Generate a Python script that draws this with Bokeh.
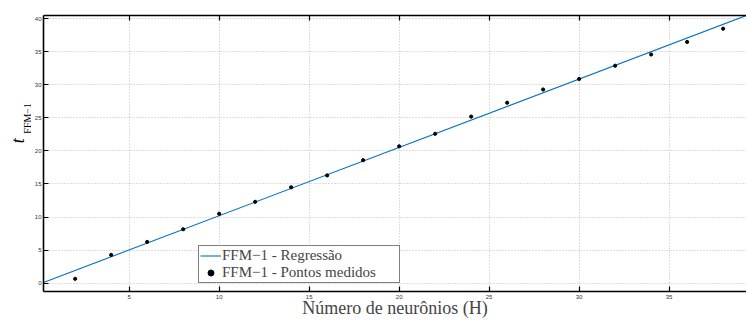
import math
from bokeh.plotting import figure
from bokeh.layouts import row
from bokeh.models import Range1d, LinearAxis, FixedTicker, Legend, LegendItem
from bokeh.core.properties import value
from bokeh.embed import file_html
from bokeh.resources import INLINE

# Data
H_points = [2, 4, 6, 8, 10, 12, 14, 16, 18, 20, 22, 24, 26, 28, 30, 32, 34, 36, 38]
t_points = [0.65, 4.27, 6.23, 8.15, 10.5, 12.3, 14.5, 16.3, 18.6, 20.7,
            22.6, 25.2, 27.3, 29.3, 30.9, 32.9, 34.6, 36.5, 38.5]
reg_H = [0.24, 39.3]
reg_t = [0.1, 40.5]
x_ticks = [5, 10, 15, 20, 25, 30, 35]
y_ticks = [0, 5, 10, 15, 20, 25, 30, 35, 40]
x_label = "Número de neurônios (H)"
y_label_main = "t"
y_label_sub = "FFM−1"

LW = 31  # width of the strip holding the y-axis label

p = figure(width=746 - LW, height=320, output_backend="svg", toolbar_location=None,
           x_range=Range1d(0.24, 39.3), y_range=Range1d(-1.27, 40.5),
           min_border_left=40 - LW, min_border_right=0, min_border_top=15, min_border_bottom=28,
           x_axis_location=None, y_axis_location=None)
p.outline_line_color = None
p.background_fill_color = "white"
p.border_fill_color = "white"

tick_font = "Liberation Sans"

def style_axis(ax):
    ax.axis_line_color = "black"
    ax.axis_line_width = 1.6
    ax.major_tick_line_color = "black"
    ax.major_tick_line_width = 1.2
    ax.major_tick_in = 5
    ax.major_tick_out = 0
    ax.minor_tick_line_color = "black"
    ax.minor_tick_line_width = 1.2
    ax.minor_tick_in = 5
    ax.minor_tick_out = 0
    ax.major_label_text_font = tick_font
    ax.major_label_text_font_size = "6px"
    ax.major_label_text_color = "#333333"
    ax.major_label_standoff = 3

xb = LinearAxis(ticker=FixedTicker(ticks=x_ticks), axis_label=x_label)
xt = LinearAxis(ticker=FixedTicker(ticks=[], minor_ticks=x_ticks))
yl = LinearAxis(ticker=FixedTicker(ticks=y_ticks))
for ax in (xb, xt, yl):
    style_axis(ax)
xb.axis_label_text_font = "Liberation Serif"
xb.axis_label_text_font_size = "18px"
xb.axis_label_text_font_style = "normal"
xb.axis_label_standoff = -4
yl.major_label_standoff = 2
p.add_layout(xb, "below")
p.add_layout(xt, "above")
p.add_layout(yl, "left")

# Grid
p.xgrid.ticker = FixedTicker(ticks=x_ticks)
p.ygrid.ticker = FixedTicker(ticks=y_ticks)
for g in (p.xgrid, p.ygrid):
    g.grid_line_color = "#bcbcbc"
    g.grid_line_dash = "1 2"
    g.grid_line_width = 1

r_line = p.line(reg_H, reg_t, line_color="#0072bd", line_width=1.1)
r_pts = p.scatter(H_points, t_points, size=3.2, color="black", marker="circle")

legend = Legend(items=[LegendItem(label="FFM−1 - Regressão", renderers=[r_line]),
                       LegendItem(label="FFM−1 - Pontos medidos", renderers=[r_pts])],
                location=(155, 8))
legend.border_line_color = "black"
legend.border_line_width = 1
legend.background_fill_color = "white"
legend.background_fill_alpha = 1
legend.label_text_font = "Liberation Serif"
legend.label_text_font_size = "15px"
legend.glyph_width = 21
legend.glyph_height = 15
legend.label_height = 15
legend.label_width = 176
legend.label_standoff = 1
legend.padding = 1
legend.spacing = 0
legend.margin = 0
p.add_layout(legend, "center")

# Narrow strip with the rotated y-axis label (t with subscript FFM-1)
q = figure(width=LW, height=320, output_backend="svg", toolbar_location=None,
           x_range=Range1d(0, LW), y_range=Range1d(0, 320),
           min_border_left=0, min_border_right=0, min_border_top=0, min_border_bottom=0,
           x_axis_location=None, y_axis_location=None)
q.outline_line_color = None
q.xgrid.visible = False
q.ygrid.visible = False
q.background_fill_color = "white"
q.border_fill_color = "white"
q.text(x=[17], y=[172], text=[y_label_main], angle=math.pi / 2,
       text_font=value("Liberation Serif"), text_font_style="italic",
       text_font_size="18px", text_align="left", text_baseline="alphabetic",
       text_color="black")
q.text(x=[27], y=[183], text=[y_label_sub], angle=math.pi / 2,
       text_font=value("Liberation Serif"), text_font_size="10px",
       text_align="left", text_baseline="alphabetic", text_color="black")

layout = row(q, p, spacing=0)
open("out.html", "w").write(file_html(layout, INLINE))
